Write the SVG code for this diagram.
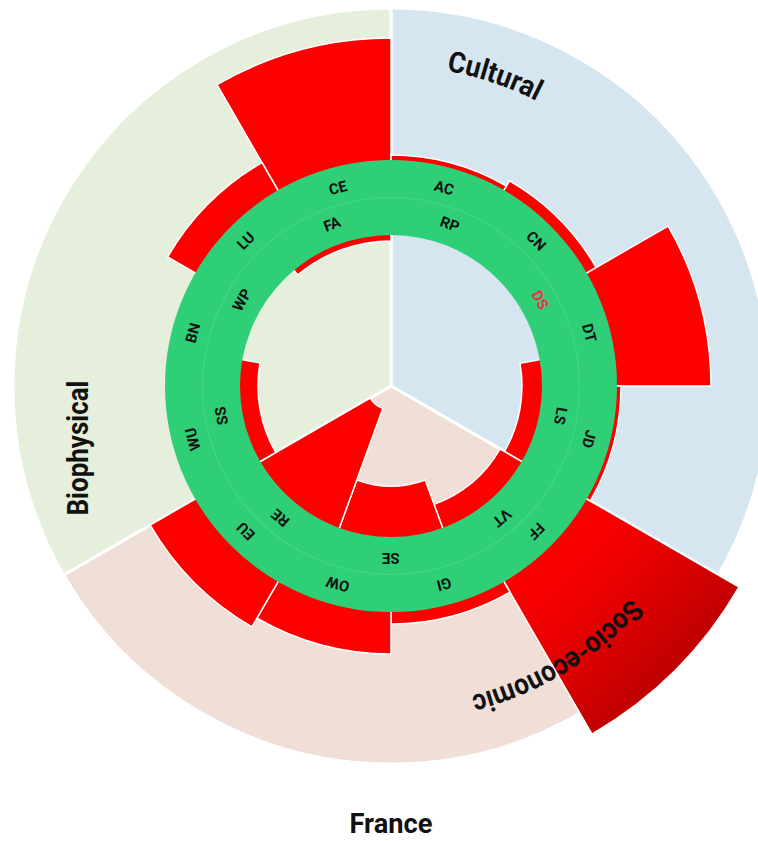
<svg xmlns="http://www.w3.org/2000/svg" width="758" height="841" viewBox="0 0 758 841">
<style>
.bg{stroke:#fff;stroke-width:3}
.bar{fill:#ff0000;stroke:#fff;stroke-width:1.5;stroke-linejoin:miter}
.lbl{font-family:Roboto,"Liberation Sans",sans-serif;font-size:15px;font-weight:bold;fill:#111;text-anchor:middle}
.big{font-family:Roboto,"Liberation Sans",sans-serif;font-size:29px;font-weight:bold;fill:#111}
</style>
<defs>
<linearGradient id="ffGrad" gradientUnits="userSpaceOnUse" x1="560" y1="520" x2="730" y2="690">
<stop offset="0" stop-color="#ff0000"/>
<stop offset="0.3" stop-color="#ee0000"/>
<stop offset="1" stop-color="#a80000"/>
</linearGradient>
<path id="arcCult" d="M179 146.3 A320 320 0 0 1 704.6 322.2"/>
<path id="arcSocio" d="M710.9 377.6 A320 320 0 0 1 238.3 667.2"/>
</defs>
<rect width="758" height="841" fill="#fff"/>
<g id="sectors">
<path id="sector-cultural" class="bg" fill="#d5e6f0" d="M391 386 L391 8 A378 378 0 0 1 718.4 575 Z"/>
<path id="sector-socio" class="bg" fill="#efdfd7" d="M391 386 L718.4 575 A378 378 0 0 1 63.6 575 Z"/>
<path id="sector-bio" class="bg" fill="#e6efdb" d="M391 386 L63.6 575 A378 378 0 0 1 391 8 Z"/>
</g>
<g id="outer-bars">
<path id="bar-CE" class="bar" d="M217 84.6 A348 348 0 0 1 391 38 L391 162 A224 224 0 0 0 279 192 Z"/>
<path id="bar-AC" class="bar" d="M391 155 A231 231 0 0 1 506.5 186 L503 192 A224 224 0 0 0 391 162 Z"/>
<path id="bar-CN" class="bar" d="M509.5 180.8 A237 237 0 0 1 596.2 267.5 L585 274 A224 224 0 0 0 503 192 Z"/>
<path id="bar-DT" class="bar" d="M668.1 226 A320 320 0 0 1 711 386 L615 386 A224 224 0 0 0 585 274 Z"/>
<path id="bar-JD" class="bar" d="M621 386 A230 230 0 0 1 590.2 501 L585 498 A224 224 0 0 0 615 386 Z"/>
<path id="bar-FF" class="bar" style="fill:url(#ffGrad)" d="M739.1 587 A402 402 0 0 1 592 734.1 L503 580 A224 224 0 0 0 585 498 Z"/>
<path id="bar-GI" class="bar" d="M510 592.1 A238 238 0 0 1 391 624 L391 610 A224 224 0 0 0 503 580 Z"/>
<path id="bar-OW" class="bar" d="M391 654 A268 268 0 0 1 257 618.1 L279 580 A224 224 0 0 0 391 610 Z"/>
<path id="bar-EU" class="bar" d="M252 626.8 A278 278 0 0 1 150.2 525 L197 498 A224 224 0 0 0 279 580 Z"/>
<path id="bar-LU" class="bar" d="M167.6 257 A258 258 0 0 1 262 162.6 L279 192 A224 224 0 0 0 197 274 Z"/>
</g>
<g id="inner-bars">
<path id="bar-FA" class="bar" d="M291.4 267.3 A155 155 0 0 1 391 231 L391 241 A145 145 0 0 0 297.8 274.9 Z"/>
<path id="bar-LS" class="bar" d="M543.6 359.1 A155 155 0 0 1 525.2 463.5 L504.4 451.5 A131 131 0 0 0 520 363.3 Z"/>
<path id="bar-VT" class="bar" d="M525.2 463.5 A155 155 0 0 1 444 531.7 L434.1 504.4 A126 126 0 0 0 500.1 449 Z"/>
<path id="bar-SE" class="bar" d="M444 531.7 A155 155 0 0 1 338 531.7 L356.8 480 A100 100 0 0 0 425.2 480 Z"/>
<path id="bar-RE" class="bar" d="M338 531.7 A155 155 0 0 1 256.8 463.5 L370.2 398 A24 24 0 0 0 382.8 408.6 Z"/>
<path id="bar-SS" class="bar" d="M256.8 463.5 A155 155 0 0 1 238.4 359.1 L260 362.9 A133 133 0 0 0 275.8 452.5 Z"/>
</g>
<g id="ring">
<circle cx="391" cy="386" r="188.5" fill="none" stroke="#2fcf78" stroke-width="75"/>
<circle cx="391" cy="386" r="188.5" fill="none" stroke="#ffffff" stroke-opacity="0.12" stroke-width="1.2"/>
</g>
<g id="outer-labels">
<text class="lbl" x="391" y="186" transform="rotate(-15 391 386)">CE</text>
<text class="lbl" x="391" y="186" transform="rotate(15 391 386)">AC</text>
<text class="lbl" x="391" y="186" transform="rotate(45 391 386)">CN</text>
<text class="lbl" x="391" y="186" transform="rotate(75 391 386)">DT</text>
<text class="lbl" x="391" y="186" transform="rotate(105 391 386)">JD</text>
<text class="lbl" x="391" y="186" transform="rotate(135 391 386)">FF</text>
<text class="lbl" x="391" y="186" transform="rotate(165 391 386)">GI</text>
<text class="lbl" x="391" y="186" transform="rotate(195 391 386)">OW</text>
<text class="lbl" x="391" y="186" transform="rotate(225 391 386)">EU</text>
<text class="lbl" x="391" y="186" transform="rotate(255 391 386)">WU</text>
<text class="lbl" x="391" y="186" transform="rotate(285 391 386)">BN</text>
<text class="lbl" x="391" y="186" transform="rotate(315 391 386)">LU</text>
</g>
<g id="inner-labels">
<text class="lbl" x="391" y="219" transform="rotate(20 391 386)">RP</text>
<text class="lbl" x="391" y="219" transform="rotate(60 391 386)" style="fill:#f0304a">DS</text>
<text class="lbl" x="391" y="219" transform="rotate(100 391 386)">LS</text>
<text class="lbl" x="391" y="219" transform="rotate(140 391 386)">VT</text>
<text class="lbl" x="391" y="219" transform="rotate(180 391 386)">SE</text>
<text class="lbl" x="391" y="219" transform="rotate(220 391 386)">RE</text>
<text class="lbl" x="391" y="219" transform="rotate(260 391 386)">SS</text>
<text class="lbl" x="391" y="219" transform="rotate(300 391 386)">WP</text>
<text class="lbl" x="391" y="219" transform="rotate(340 391 386)">FA</text>
</g>
<g id="category-labels">
<text class="big"><textPath href="#arcCult" startOffset="50%" text-anchor="middle" textLength="95" lengthAdjust="spacingAndGlyphs">Cultural</textPath></text>
<text class="big"><textPath href="#arcSocio" startOffset="50%" text-anchor="middle" textLength="190" lengthAdjust="spacingAndGlyphs">Socio-economic</textPath></text>
<text class="big" text-anchor="middle" transform="translate(88 448) rotate(-90)" textLength="135" lengthAdjust="spacingAndGlyphs">Biophysical</text>
</g>
<text id="title" class="big" x="391" y="833" text-anchor="middle" style="font-size:27px" textLength="83" lengthAdjust="spacingAndGlyphs">France</text>
</svg>
